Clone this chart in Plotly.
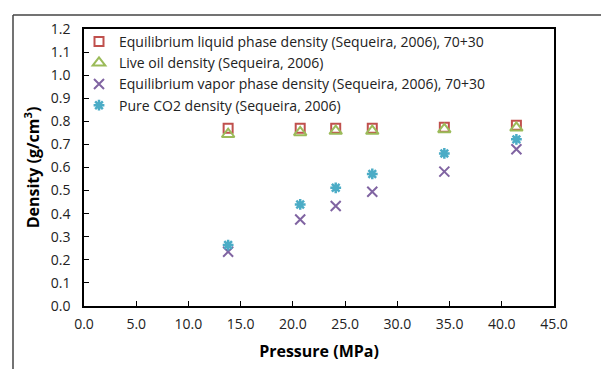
import plotly.graph_objects as go

pressure = [13.8, 20.7, 24.1, 27.6, 34.5, 41.4]
liquid = [0.770, 0.770, 0.770, 0.770, 0.774, 0.783]
live_oil = [0.744, 0.752, 0.758, 0.758, 0.765, 0.772]
vapor = [0.235, 0.375, 0.433, 0.495, 0.582, 0.679]
co2 = [0.264, 0.440, 0.512, 0.572, 0.661, 0.722]

names = [
    "Equilibrium liquid phase density (Sequeira, 2006), 70+30",
    "Live oil density (Sequeira, 2006)",
    "Equilibrium vapor phase density (Sequeira, 2006), 70+30",
    "Pure CO2 density (Sequeira, 2006)",
]

FONT = "Open Sans"
fig = go.Figure()
fig.add_trace(go.Scatter(x=pressure, y=liquid, mode="markers", name=names[0],
                         marker=dict(symbol="square-open", size=9, color="#C0504D",
                                     line=dict(width=2, color="#C0504D"))))
fig.add_trace(go.Scatter(x=pressure, y=live_oil, mode="markers", name=names[1],
                         marker=dict(symbol="triangle-up-open", size=11, color="#9BBB59",
                                     line=dict(width=2, color="#9BBB59"))))
fig.add_trace(go.Scatter(x=pressure, y=vapor, mode="markers", name=names[2],
                         marker=dict(symbol="x-thin-open", size=10, color="#8064A2",
                                     line=dict(width=2, color="#8064A2"))))
fig.add_trace(go.Scatter(x=pressure, y=co2, mode="markers", name=names[3],
                         marker=dict(symbol="asterisk-open", size=9, color="#4BACC6",
                                     line=dict(width=2.5, color="#4BACC6"))))

axis_common = dict(showline=True, linecolor="black", linewidth=1.5, mirror=True,
                   showgrid=False, zeroline=False, ticks="inside", ticklen=5,
                   tickcolor="black", tickwidth=1,
                   tickfont=dict(family=FONT, size=14, color="#222"))

fig.update_xaxes(range=[0, 45], dtick=5, tick0=0, tickformat=".1f", ticklabelstandoff=4,
                 title=dict(text="<b>Pressure (MPa)</b>", font=dict(family=FONT, size=16, color="black"),
                            standoff=14),
                 **axis_common)
fig.update_yaxes(range=[0, 1.2], dtick=0.1, tick0=0, tickformat=".1f", ticklabelstandoff=9,
                 title=dict(text="<b>Density (g/cm<sup>3</sup>)</b>", font=dict(family=FONT, size=16, color="black"),
                            standoff=7),
                 **axis_common)

fig.update_layout(
    width=601, height=369,
    margin=dict(l=84, r=47, t=29, b=63),
    plot_bgcolor="white", paper_bgcolor="white",
    font=dict(family=FONT, color="black"),
    legend=dict(x=-5/470, y=1 + 3/277, xanchor="left", yanchor="top", bgcolor="rgba(0,0,0,0)",
                font=dict(family=FONT, size=14, color="#222"), tracegroupgap=0,
                itemwidth=30),
    shapes=[
        dict(type="line", xref="paper", yref="paper", x0=-71/470, x1=1.2, y0=1 + 14/277, y1=1 + 14/277,
             line=dict(color="#444", width=1.5)),
        dict(type="line", xref="paper", yref="paper", x0=-71/470, x1=-71/470, y0=1 + 14/277, y1=-0.3,
             line=dict(color="#444", width=1.5)),
    ],
)

fig.write_html("out.html")
